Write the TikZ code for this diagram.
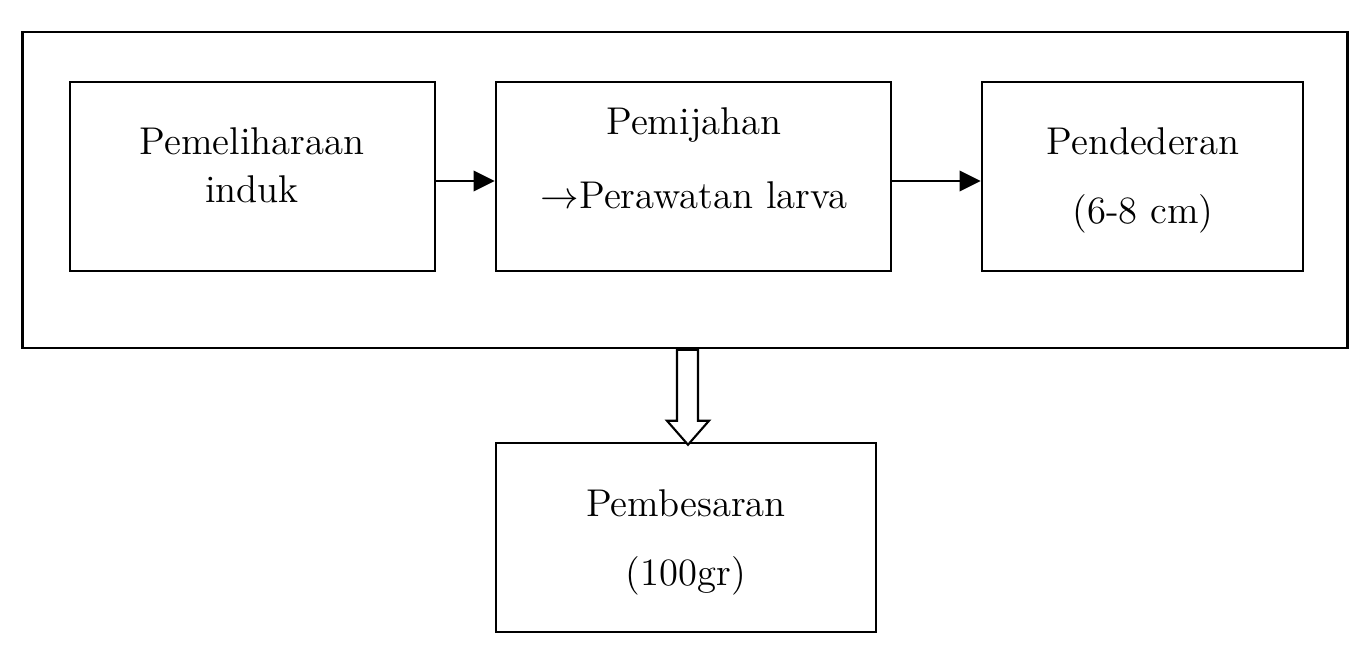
\documentclass[tikz,border=0pt]{standalone}
\usetikzlibrary{arrows.meta, positioning, calc}
\begin{document}
\begin{tikzpicture}[x=0.01cm, y=-0.01cm,
  box/.style={draw, line width=0.7pt, inner sep=0pt, minimum height=1.89cm},
  lbl/.style={font=\fontsize{11}{13.4}\selectfont, align=center, anchor=base, inner sep=0pt},
  flow/.style={line width=0.7pt, -{Triangle[length=6pt, width=5.8pt]}}]
  \useasboundingbox (0,0) rectangle (1360,644);

  % Outer frame
  \node[box, minimum width=13.24cm, minimum height=3.16cm] (frame) at (685,190) {};

  % Stages inside the frame
  \node[box, minimum width=3.65cm] (induk) at (252.5,176.5) {};
  \node[lbl] (induk-txt) at (252,202) {Pemeliharaan\\induk};
  \node[box, minimum width=3.95cm] (pijah) at (693.5,176.5) {};
  \node[lbl] (pijah-txt) at (694,208) {Pemijahan\\[7.4pt]$\rightarrow$Perawatan larva};
  \node[box, minimum width=3.21cm] (deder) at (1142.5,176.5) {};
  \node[lbl] (deder-txt) at (1143,223) {Pendederan\\[6pt](6-8 cm)};

  \draw[flow] (induk.east |- 0,181) -- (pijah.west |- 0,181);
  \draw[flow] (pijah.east |- 0,181) -- (deder.west |- 0,181);

  % Final stage
  \node[box, minimum width=3.8cm] (besar) at (686,537.5) {};
  \node[lbl] (besar-txt) at (686,585) {Pembesaran\\[6pt](100gr)};

  % Hollow arrow
  \coordinate (tip) at ($(besar.north)+(2,3)$);
  \draw[line width=0.6pt, fill=white] ($(tip)+(-11,-95)$) -- ($(tip)+(10,-95)$) -- ($(tip)+(10,-24)$)
    -- ($(tip)+(21,-24)$) -- (tip) -- ($(tip)+(-21,-24)$) -- ($(tip)+(-11,-24)$) -- cycle;
\end{tikzpicture}
\end{document}
